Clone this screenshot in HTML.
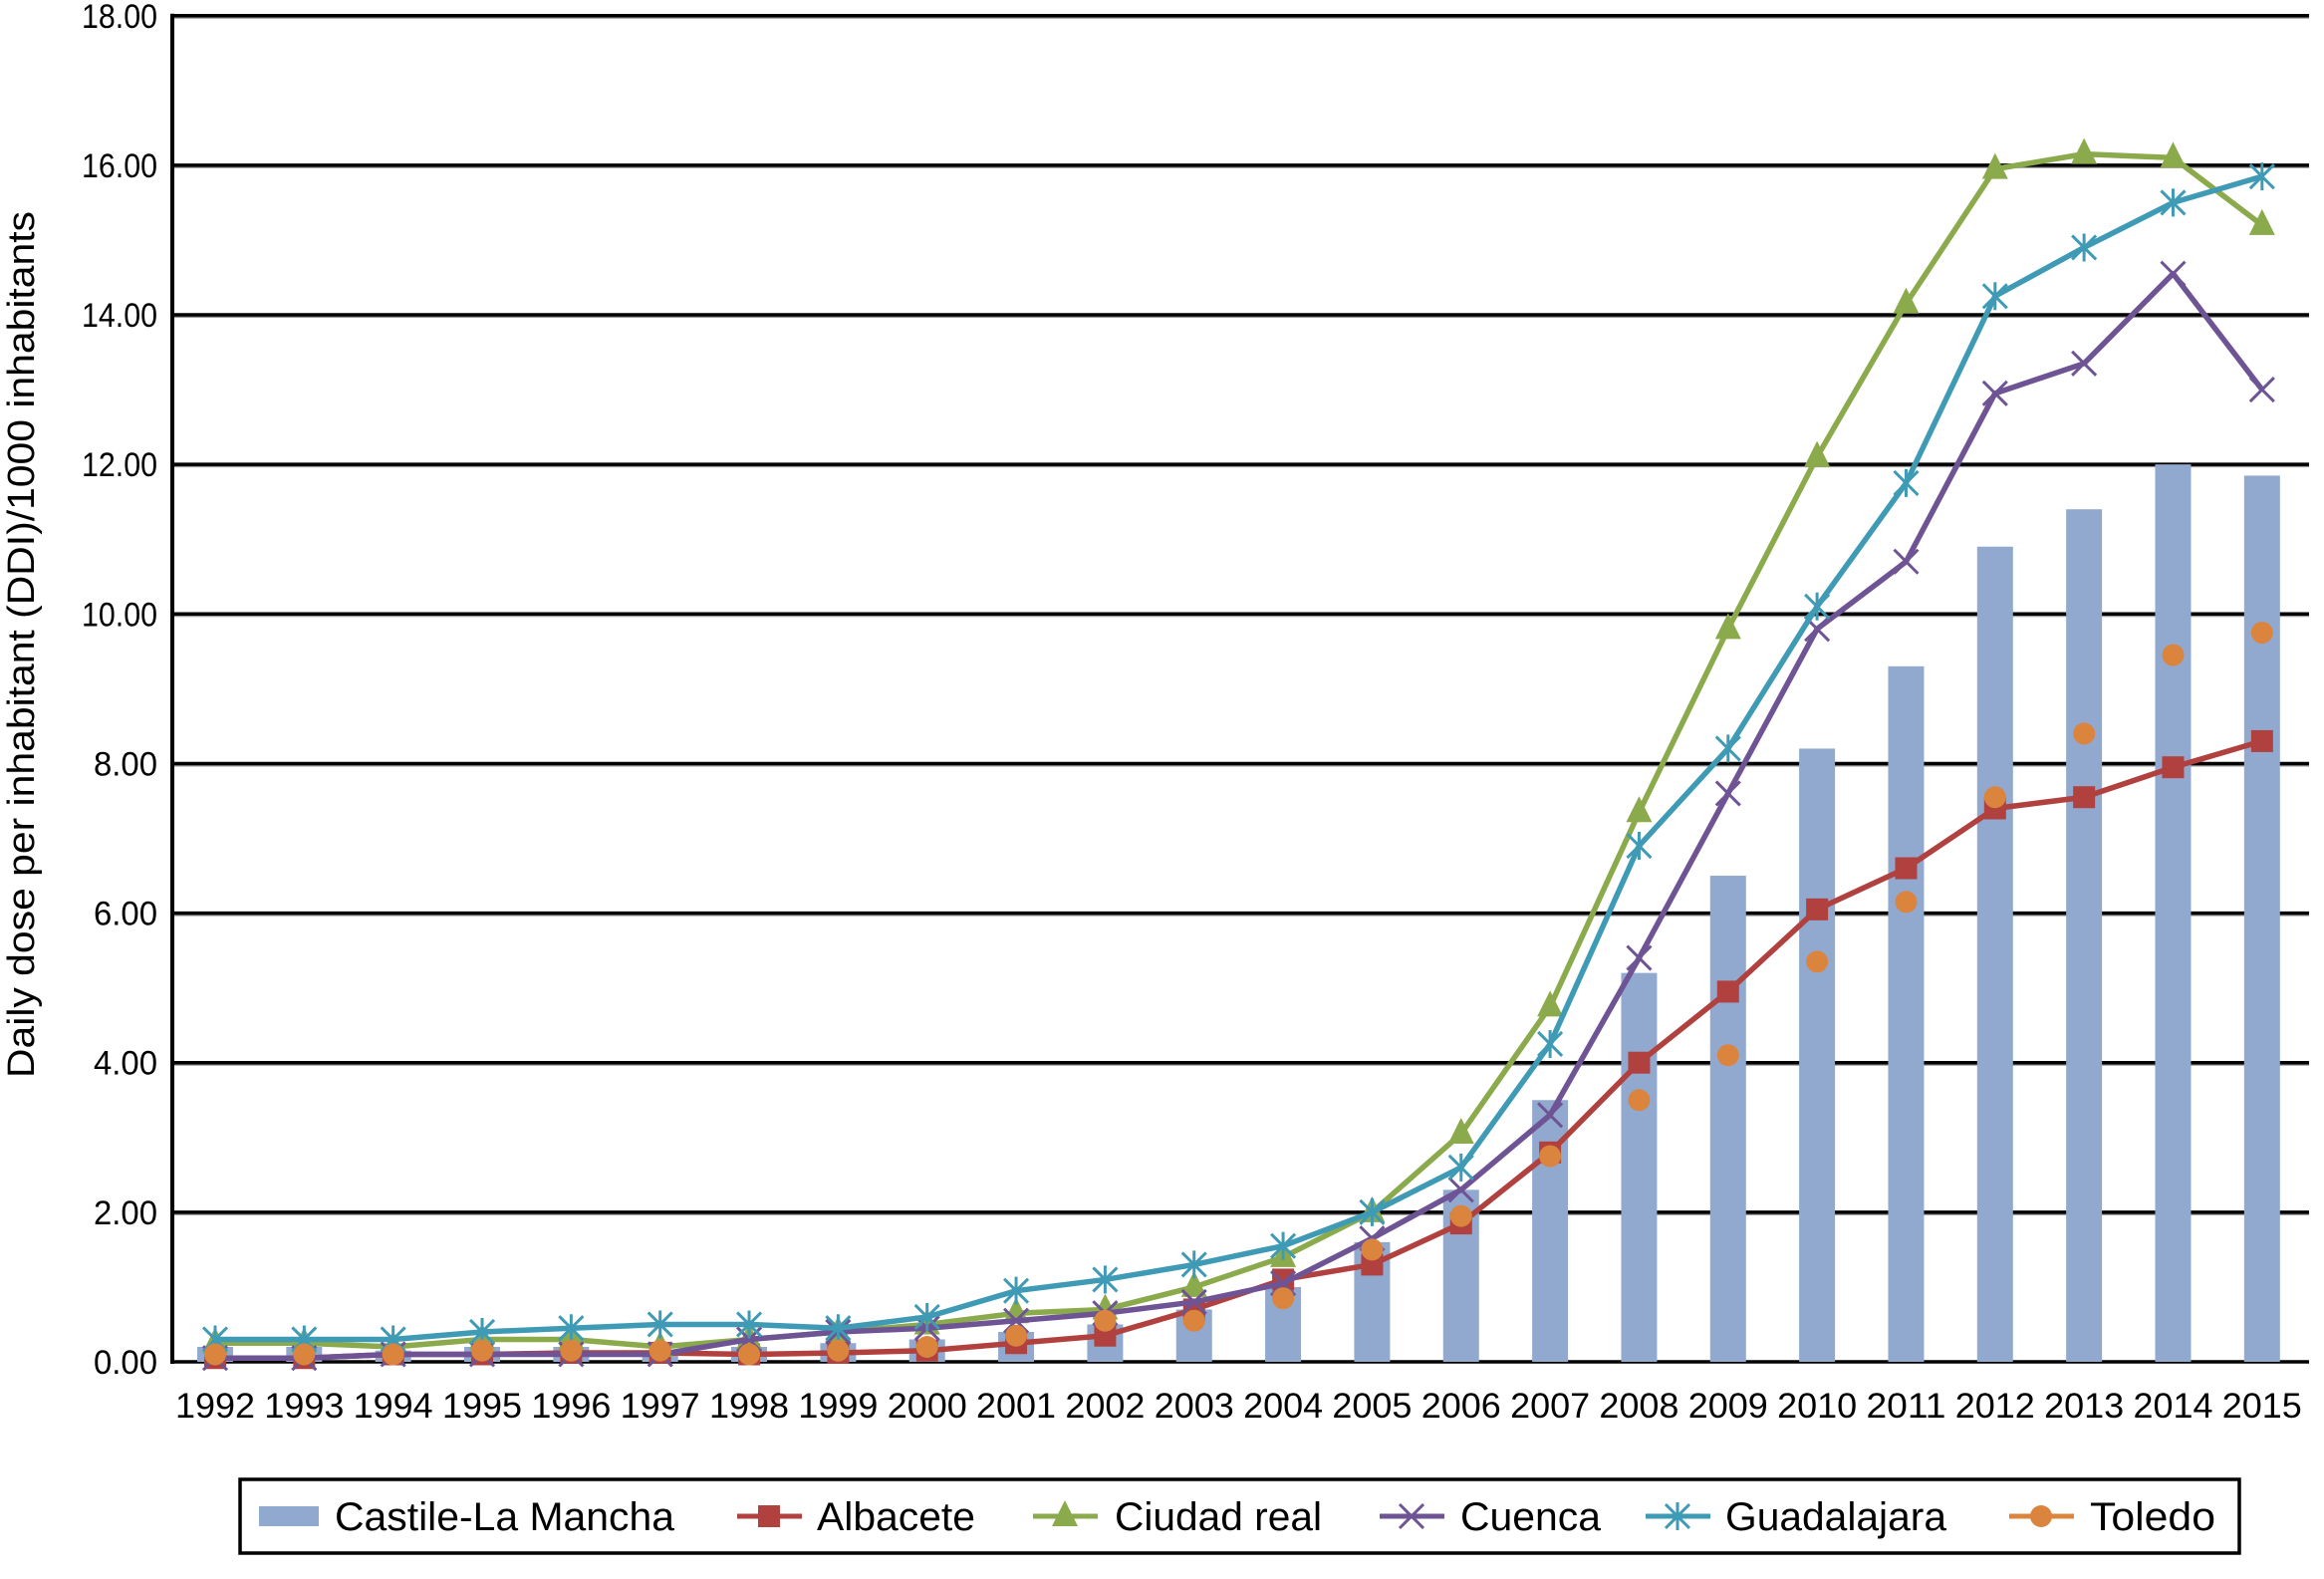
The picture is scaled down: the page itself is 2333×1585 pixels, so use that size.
<!DOCTYPE html>
<html><head><meta charset="utf-8"><style>
html,body{margin:0;padding:0;background:#fff;}
svg{display:block;font-family:"Liberation Sans",Arial,sans-serif;}
</style></head><body>
<svg id="chart" width="2333" height="1585" viewBox="0 0 2333 1585" xmlns="http://www.w3.org/2000/svg">
<g id="grid"></g>
<g id="yticks"></g>
<g id="xticks"></g>
<g id="bars"></g>
<g id="lines"></g>
<text transform="translate(34,647) rotate(-90)" text-anchor="middle" font-size="38" textLength="870" lengthAdjust="spacingAndGlyphs" fill="#000">Daily dose per inhabitant (DDI)/1000 inhabitants</text>
<g id="legend"></g>
</svg>
<script>
const years = [1992,1993,1994,1995,1996,1997,1998,1999,2000,2001,2002,2003,2004,2005,2006,2007,2008,2009,2010,2011,2012,2013,2014,2015];
const yTicks = [0,2,4,6,8,10,12,14,16,18];
const castile = [0.2,0.2,0.15,0.2,0.2,0.15,0.2,0.25,0.3,0.4,0.5,0.7,1.0,1.6,2.3,3.5,5.2,6.5,8.2,9.3,10.9,11.4,12.0,11.85];
const albacete = [0.05,0.05,0.1,0.1,0.12,0.12,0.1,0.12,0.15,0.25,0.35,0.7,1.1,1.3,1.85,2.8,4.0,4.95,6.05,6.6,7.4,7.55,7.95,8.3];
const ciudadReal = [0.25,0.25,0.2,0.3,0.3,0.2,0.3,0.4,0.5,0.65,0.7,1.0,1.4,2.0,3.05,4.75,7.35,9.8,12.1,14.15,15.95,16.15,16.1,15.2];
const cuenca = [0.05,0.05,0.1,0.1,0.1,0.1,0.3,0.4,0.45,0.55,0.65,0.8,1.05,1.65,2.3,3.3,5.4,7.6,9.8,10.7,12.95,13.35,14.55,13.0];
const guadalajara = [0.3,0.3,0.3,0.4,0.45,0.5,0.5,0.45,0.6,0.95,1.1,1.3,1.55,2.0,2.6,4.25,6.9,8.2,10.1,11.75,14.25,14.9,15.5,15.85];
const toledo = [0.1,0.1,0.1,0.15,0.15,0.15,0.1,0.15,0.2,0.35,0.55,0.55,0.85,1.5,1.95,2.75,3.5,4.1,5.35,6.15,7.55,8.4,9.45,9.75];

const NS="http://www.w3.org/2000/svg";
const L=173,R=2318,Y0=1367,UNIT=75.07;
const X0=216,STEP=89.34;
const xs=i=>X0+i*STEP;
const ys=v=>Y0-v*UNIT;
function mk(tag,parent,attrs){const e=document.createElementNS(NS,tag);for(const k in attrs)e.setAttribute(k,attrs[k]);parent.appendChild(e);return e;}
const grid=document.getElementById('grid'),yt=document.getElementById('yticks'),xt=document.getElementById('xticks');
yTicks.forEach(t=>{
  const y=ys(t);
  if(t>0){
    const s=mk('line',grid,{x1:L,x2:R,y1:y+2,y2:y+2,stroke:'#999','stroke-width':2});
    
    
  }
  const g=mk('line',grid,{x1:L,x2:R,y1:y,y2:y,stroke:'#000','stroke-width':3.5});
  
  
  const tx=mk('text',yt,{x:158,y:y+12,'text-anchor':'end','font-size':34,textLength:t>=10?76:64,lengthAdjust:'spacingAndGlyphs'});
  tx.textContent=t.toFixed(2);
  
  
});
const ax=mk('line',grid,{x1:L,x2:L,y1:ys(18)-2,y2:Y0+2,stroke:'#000','stroke-width':4});


years.forEach((yr,i)=>{
  const tx=mk('text',xt,{x:xs(i),y:1423,'text-anchor':'middle','font-size':35,textLength:80,lengthAdjust:'spacingAndGlyphs'});
  tx.textContent=yr;
  
  
});
const bars=document.getElementById('bars');
castile.forEach((v,i)=>{
  const b=mk('rect',bars,{x:xs(i)-18,y:ys(v),width:36,height:Y0-ys(v),fill:'#92a9cf'});
  
  
});
const lines=document.getElementById('lines');
function marker(g,type,x,y,c){
  let m;
  if(type==='square'){m=mk('rect',g,{x:x-11,y:y-11,width:22,height:22,fill:c});}
  else if(type==='tri'){m=mk('polygon',g,{points:`${x},${y-16} ${x-13},${y+10} ${x+13},${y+10}`,fill:c});}
  else if(type==='x'){m=mk('path',g,{d:`M${x-12},${y-12}L${x+12},${y+12}M${x-12},${y+12}L${x+12},${y-12}`,stroke:c,'stroke-width':3,fill:'none'});}
  else if(type==='star'){m=mk('path',g,{d:`M${x-12},${y-12}L${x+12},${y+12}M${x-12},${y+12}L${x+12},${y-12}M${x},${y-14}L${x},${y+14}`,stroke:c,'stroke-width':3,fill:'none'});}
  else {m=mk('circle',g,{cx:x,cy:y,r:11,fill:c});}
  return m;
}
const series=[
 ['albacete',albacete,'#b0413e','square',true],
 ['ciudad-real',ciudadReal,'#8aaa4c','tri',true],
 ['cuenca',cuenca,'#6e5494','x',true],
 ['guadalajara',guadalajara,'#3f9bb5','star',true],
 ['toledo',toledo,'#db843d','circle',false]
];
series.forEach(([name,data,c,m,line])=>{
  const g=mk('g',lines,{});
  
  
  if(line){
    const p=mk('polyline',g,{points:data.map((v,i)=>xs(i)+','+ys(v)).join(' '),fill:'none',stroke:c,'stroke-width':5.5,'stroke-linejoin':'round'});
    
    
  }
  data.forEach((v,i)=>{
    const mm=marker(g,m,xs(i),ys(v),c);
    
    
  });
});
const lg=document.getElementById('legend');
const box=mk('rect',lg,{x:241,y:1485,width:2007,height:74,fill:'#fff',stroke:'#000','stroke-width':3.5});


const ly=1522;
const entries=[
 ['Castile-La Mancha','#92a9cf','bar',260,336,341],
 ['Albacete','#b0413e','square',740,820,159],
 ['Ciudad real','#8aaa4c','tri',1037,1119,208],
 ['Cuenca','#6e5494','x',1385,1466,141],
 ['Guadalajara','#3f9bb5','star',1652,1732,222],
 ['Toledo','#db843d','circle',2017,2098,126]
];
entries.forEach(([label,c,m,sx,tx,tw])=>{
  const g=mk('g',lg,{});
  
  
  if(m==='bar'){mk('rect',g,{x:sx,y:ly-10,width:60,height:20,fill:c});}
  else{
    mk('line',g,{x1:sx,x2:sx+65,y1:ly,y2:ly,stroke:c,'stroke-width':5});
    marker(g,m,sx+32,ly,c);
  }
  const t=mk('text',g,{x:tx,y:ly+14,'font-size':40,textLength:tw,lengthAdjust:'spacingAndGlyphs'});
  t.textContent=label;
});
</script>
</body></html>
